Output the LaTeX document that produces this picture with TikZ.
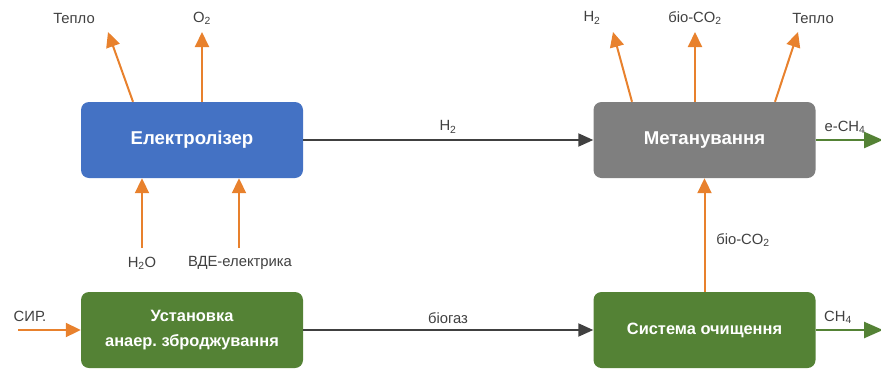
\documentclass[tikz,border=0pt]{standalone}
\usepackage{fontspec}
\setmainfont{Liberation Sans}
\usetikzlibrary{arrows.meta}
\frenchspacing
\definecolor{orng}{HTML}{E8812D}
\definecolor{dgray}{HTML}{404040}
\definecolor{bblue}{HTML}{4472C4}
\definecolor{bgray}{HTML}{7F7F7F}
\definecolor{bgreen}{HTML}{548235}
\definecolor{lbl}{HTML}{404040}
\newcommand\subsc[1]{\textsubscript{#1}}
\tikzset{
  box/.style={rounded corners=8pt, minimum width=222pt, minimum height=76pt, inner sep=0pt,
    text=white, font=\fontsize{18.6}{25}\selectfont\bfseries, align=center},
  gbox/.style={box, fill=bgreen, font=\fontsize{16.4}{25}\selectfont\bfseries},
  lab/.style={text=lbl, font=\fontsize{14.8}{17}\selectfont, inner sep=0pt},
  oarr/.style={draw=orng, line width=2pt, -{Triangle[length=15pt,width=14pt]}, fill=orng},
  karr/.style={draw=dgray, line width=2pt, -{Triangle[length=15pt,width=13pt]}, fill=dgray},
  garr/.style={draw=bgreen, line width=2.5pt, -{Triangle[length=19pt,width=16pt]}, fill=bgreen},
}
\begin{document}
\begin{tikzpicture}[x=1pt,y=-1pt]
\useasboundingbox (0,0) rectangle (881,370);
% boxes
\node[box, fill=bblue] (el) at (192,140) {Електролізер};
\node[box, fill=bgray] (me) at (704.5,140) {Метанування};
\node[gbox] (an) at (192,330) {Установка\\анаер. зброджування};
\node[gbox] (sy) at (704.5,330) {Система очищення};
% labels
\node[lab] (lt1) at (74,18) {Тепло};
\node[lab] (lo2) at (202,18) {O\subsc{2}};
\node[lab] (lh2o) at (142,263) {H\subsc{2}O};
\node[lab] (lvde) at (240,263) {ВДЕ-електрика};
\node[lab] (lh2a) at (592,18) {H\subsc{2}};
\node[lab] (lbco) at (695,18) {біо-CO\subsc{2}};
\node[lab] (lt2) at (813,18) {Тепло};
\node[lab] (lech) at (845,127) {e-CH\subsc{4}};
\node[lab] (lch) at (838,317) {CH\subsc{4}};
\node[lab] (lh2) at (448,127) {H\subsc{2}};
\node[lab] (lbg) at (448,318) {біогаз};
\node[lab] (lbc2) at (743,240) {біо-CO\subsc{2}};
\node[lab] (lsir) at (30,316) {СИР.};
% free ends
\coordinate (e1) at (108,32);
\coordinate (e2) at (202,32);
\coordinate (e3) at (613,32);
\coordinate (e4) at (695,32);
\coordinate (e5) at (798,32);
\coordinate (s1) at (142,248);
\coordinate (s2) at (239,248);
\coordinate (s3) at (18,330);
\coordinate (g1) at (883,140);
\coordinate (g2) at (883,330);
% orange arrows
\draw[oarr] (el.north -| 133,0) -- (e1);
\draw[oarr] (el.north -| e2) -- (e2);
\draw[oarr] (me.north -| 632,0) -- (e3);
\draw[oarr] (me.north -| e4) -- (e4);
\draw[oarr] (me.north -| 775,0) -- (e5);
\draw[oarr] (s1) -- (el.south -| s1);
\draw[oarr] (s2) -- (el.south -| s2);
\draw[oarr] (s3) -- (an.west);
\draw[oarr] (sy.north) -- (me.south);
% dark arrows
\draw[karr] (el.east) -- (me.west);
\draw[karr] (an.east) -- (sy.west);
% green arrows
\draw[garr] (me.east) -- (g1);
\draw[garr] (sy.east) -- (g2);
\end{tikzpicture}
\end{document}
